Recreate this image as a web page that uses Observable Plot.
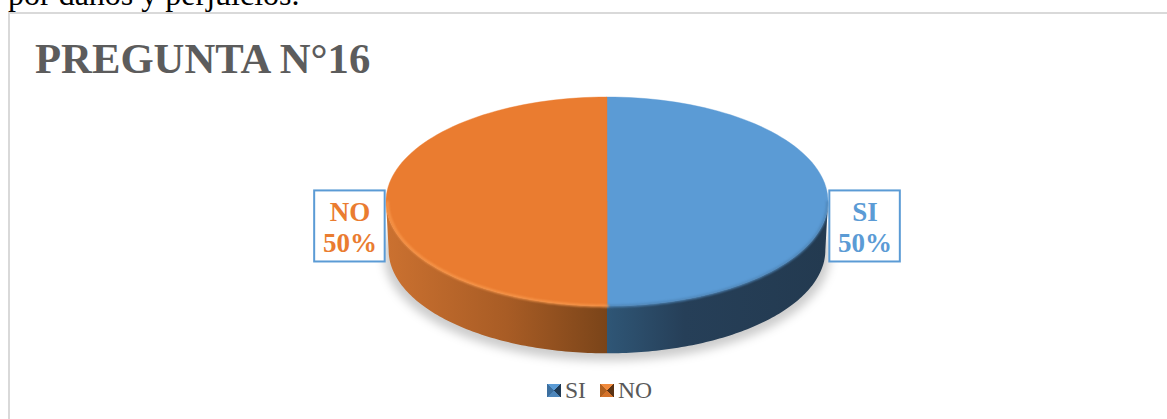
<!DOCTYPE html>
<html lang="es">
<head>
<meta charset="utf-8">
<script src="https://cdn.jsdelivr.net/npm/d3@7"></script>
<script src="https://cdn.jsdelivr.net/npm/@observablehq/plot@0.6"></script>
<style>
  html, body { margin: 0; padding: 0; background: #fff; width: 1167px; height: 419px; overflow: hidden; }
  body { position: relative; font-family: "Liberation Serif", serif; }
  #chart { position: absolute; left: 0; top: 0; }
  #chart svg { display: block; background: transparent; }
  #frame { position: absolute; left: 8px; top: 12px; width: 1170px; height: 420px; border: 2px solid #d9d9d9; box-sizing: border-box; }
  #context { position: absolute; left: 8px; top: -22px; font-size: 32px; line-height: 32px; color: #000; white-space: nowrap; }
  #title { position: absolute; left: 35px; top: 33px; margin: 0; font-size: 42.7px; line-height: 52px; font-weight: bold; color: #5c5c5c; white-space: nowrap; }
  #legend { position: absolute; left: 547px; top: 376px; height: 28px; display: flex; align-items: center; font-size: 23.6px; color: #595959; line-height: 28px; }
  #legend i { display: block; width: 14px; height: 13px; margin-right: 4px; }
  #legend span { margin-right: 14px; }
</style>
</head>
<body>
<div id="context">por daños y perjuicios.</div>
<div id="frame"></div>
<div id="chart"></div>
<h1 id="title">PREGUNTA N°16</h1>
<div id="legend"></div>
<script>
const categories = ["SI", "NO"];
const values = [50, 50];
const percentLabels = ["50%", "50%"];
const topColors = ["#5b9bd5", "#ea7c30"];
const rimColors = ["#4f86b8", "#f7964a"];
const sideGradients = {
  SI: [["0%", "#2f5676"], ["35%", "#263f58"], ["100%", "#233a50"]],
  NO: [["0%", "#cb7130"], ["55%", "#a85c25"], ["100%", "#7a4419"]]
};
const swatches = {
  SI: ["#5b9bd5", "#1f3a55", "#4d86bb", "#3c6f9f"],
  NO: ["#f08a3c", "#5a3213", "#d4722a", "#b0601f"]
};
const depth = 0.465;
const lowerScale = 0.988;

const slices = d3.pie().sort(null)(values).map((a, i) => ({
  name: categories[i], label: percentLabels[i], start: a.startAngle, end: a.endAngle, color: topColors[i], rim: rimColors[i]
}));
function arcAngles(a0, a1, n = 90) {
  return d3.range(n + 1).map(k => a0 + (a1 - a0) * k / n);
}
const topRows = slices.flatMap(s => arcAngles(s.start, s.end).map(t => ({
  name: s.name, x1: Math.sin(t), y1: Math.cos(t), x2: 0, y2: 0
})));
const sideRows = s => {
  const a0 = Math.max(s.start, Math.PI / 2), a1 = Math.min(s.end, 3 * Math.PI / 2);
  return arcAngles(a0, a1).map(t => ({
    name: s.name,
    x1: Math.sin(t), y1: Math.cos(t),
    x2: Math.sin(t) * lowerScale, y2: Math.cos(t) * lowerScale - depth
  }));
};
const shadowRows = arcAngles(0, 2 * Math.PI, 180).map(t => ({
  x1: Math.sin(t) * 1.01, y1: Math.cos(t) * 1.01 - depth - 0.05, x2: 0, y2: -depth - 0.05
}));
const rimRows = s => arcAngles(Math.max(s.start, Math.PI / 2), Math.min(s.end, 3 * Math.PI / 2)).map(t => ({
  x: Math.sin(t) * 0.995, y: Math.cos(t) * 0.995
}));

const defs = () => {
  const svg = d3.create("svg:g");
  const d = svg.append("defs");
  for (const [name, stops] of Object.entries(sideGradients)) {
    const flip = name === "NO";
    const g = d.append("linearGradient").attr("id", "side" + name)
      .attr("x1", flip ? 1 : 0).attr("x2", flip ? 0 : 1).attr("y1", 0).attr("y2", 0);
    const ordered = flip ? stops.slice().reverse().map(([o, c]) => [(100 - parseFloat(o)) + "%", c]) : stops;
    ordered.forEach(([o, c]) => g.append("stop").attr("offset", o).attr("stop-color", c));
  }
  return svg.node();
};

const boxW = 0.319, boxMid = -0.234, boxH = 0.34;
const labelRows = slices.map(s => {
  const side = Math.sin((s.start + s.end) / 2) > 0 ? 1 : -1;
  const x1 = side * 1.006, x2 = side * (1.006 + boxW);
  return { name: s.name, color: s.color, x1, x2, mx: (x1 + x2) / 2, text: s.name + "\n" + s.label };
});

const chart = Plot.plot({
  width: 1167, height: 419, margin: 0,
  x: { domain: [-1, 1], range: [386, 828], axis: null },
  y: { domain: [-1, 1], range: [306, 97], axis: null },
  marks: [
    defs,
    Plot.area(shadowRows, { x1: "x1", y1: "y1", x2: "x2", y2: "y2", fill: "#000", fillOpacity: 0.2, imageFilter: "blur(5px)" }),
    ...slices.map(s => Plot.area(sideRows(s), { x1: "x1", y1: "y1", x2: "x2", y2: "y2", fill: `url(#side${s.name})` })),
    ...slices.map(s => Plot.area(topRows.filter(d => d.name === s.name), { x1: "x1", y1: "y1", x2: "x2", y2: "y2", fill: s.color, stroke: s.color, strokeWidth: 0.4 })),
    ...slices.map(s => Plot.line(rimRows(s), { x: "x", y: "y", stroke: s.rim, strokeWidth: 2.4, imageFilter: "blur(0.8px)" })),
    Plot.rect(labelRows, { x1: "x1", x2: "x2", y1: boxMid - boxH, y2: boxMid + boxH, fill: "#fff", stroke: "#5b9bd5", strokeWidth: 2 }),
    Plot.text(labelRows, { x: "mx", y: boxMid, text: "text", fill: "color", fontFamily: "Liberation Serif", fontWeight: "bold", fontSize: 27, lineHeight: 1.14 })
  ]
});
document.getElementById("chart").append(chart);

const legend = d3.select("#legend");
categories.forEach(name => {
  const [t, r, b, l] = swatches[name];
  legend.append("i").style("background",
    `conic-gradient(from -45deg, ${t} 0 90deg, ${r} 90deg 180deg, ${b} 180deg 270deg, ${l} 270deg 360deg)`);
  legend.append("span").text(name);
});
</script>
</body>
</html>
